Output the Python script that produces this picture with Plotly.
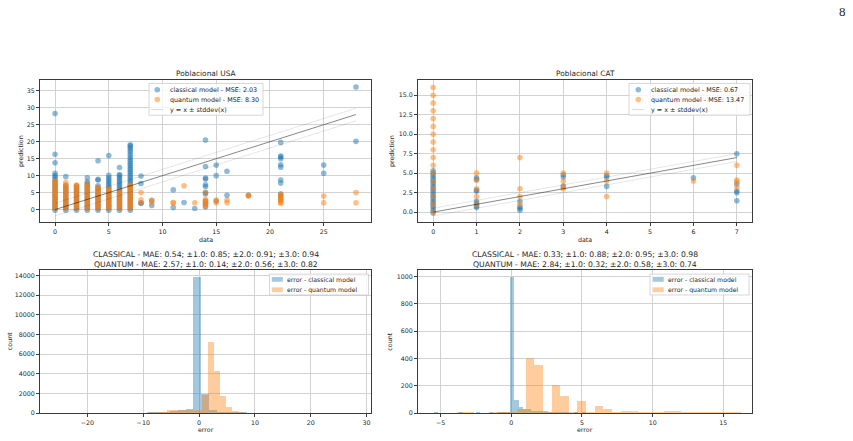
import plotly.graph_objects as go

W, H = 853, 441

# ---------------- data ----------------
usa_classical = {
    0: [-0.2, 0.4, 1.0, 1.6, 2.2, 2.8, 3.4, 4.0, 4.6, 5.2, 5.8, 6.4, 7.0, 7.6, 8.2, 8.8, 9.5, 10.0, 10.7, 13.8, 16.3, 28.3],
    1: [-0.2, 0.4, 1.0, 1.6, 2.2, 2.8, 3.4, 4.0, 4.6, 5.2, 5.8, 6.4, 7.0, 9.7],
    2: [-0.2, 0.4, 1.0, 1.6, 2.2, 2.8, 3.4, 4.0, 4.6, 5.2, 5.8, 6.4, 7.0],
    3: [-0.2, 0.4, 1.0, 1.6, 2.2, 2.8, 3.4, 4.0, 4.6, 5.2, 5.8, 6.4, 7.0, 7.6, 8.2, 9.4],
    4: [-0.2, 0.4, 1.0, 1.6, 2.2, 2.8, 3.4, 4.0, 4.6, 5.2, 5.8, 6.4, 7.0, 8.7, 8.9, 14.4],
    5: [-0.2, 0.4, 1.0, 1.6, 2.2, 2.8, 3.4, 4.0, 4.6, 5.2, 5.8, 6.4, 7.0, 7.6, 8.2, 8.8, 9.4, 10.1, 15.9],
    6: [-0.2, 0.4, 1.0, 1.6, 2.2, 2.8, 3.4, 4.0, 4.6, 5.2, 5.8, 6.4, 7.0, 7.6, 8.2, 8.8, 9.4, 10.0, 10.3, 12.4],
    7: [-0.2, 0.4, 1.0, 1.6, 2.2, 2.8, 3.4, 4.0, 4.6, 5.2, 5.8, 6.4, 7.0, 7.6, 8.2, 8.8, 9.4, 10.0, 10.6,
        11.2, 11.8, 12.4, 13.0, 13.6, 14.2, 14.8, 15.5, 16.2, 17.0, 17.6, 18.3, 18.8, 19.1],
    8: [1.8, 2.0, 7.7, 9.9],
    9: [1.2, 2.6],
    11: [0.6, 5.8],
    12: [2.1],
    13: [0.3],
    14: [0.8, 1.8, 2.5, 4.6, 5.0, 6.8, 7.3, 9.0, 9.3, 12.7, 20.5],
    15: [2.5, 10.0, 13.1],
    16: [4.2, 11.3],
    18: [4.2],
    21: [3.0, 4.0, 4.6, 7.8, 8.7, 12.5, 13.2, 15.0, 15.5, 15.8, 19.8],
    25: [10.7, 13.1],
    28: [20.1, 36.1],
}
usa_quantum = {
    0: [0.3, 0.9, 1.5, 2.1, 2.7, 3.3, 3.9, 4.5, 5.1, 5.7, 6.3, 6.9, 7.5, 8.1, 8.5],
    1: [0.3, 0.9, 1.5, 2.1, 2.7, 3.3, 3.9, 4.5, 5.1, 5.7, 6.3, 6.9, 7.3, 8.0],
    2: [0.3, 0.9, 1.5, 2.1, 2.7, 3.3, 3.9, 4.5, 5.1, 5.7, 6.3, 6.9, 7.2],
    3: [0.3, 0.9, 1.5, 2.1, 2.7, 3.3, 3.9, 4.5, 5.1, 5.7, 6.3, 6.9, 7.5],
    4: [0.3, 0.9, 1.5, 2.1, 2.7, 3.3, 3.9, 4.5, 5.1, 5.7, 6.3, 6.5],
    5: [0.3, 0.9, 1.5, 2.1, 2.7, 3.3, 3.9, 4.5, 5.1, 5.7, 6.2],
    6: [0.3, 0.9, 1.5, 2.1, 2.7, 3.3, 3.9, 4.5, 5.1, 5.6],
    7: [0.3, 0.9, 1.5, 2.1, 2.7, 3.3, 3.9, 4.5, 5.1, 5.7, 6.3, 6.9, 7.2],
    8: [2.0, 2.9, 5.0],
    9: [2.0, 2.8],
    11: [1.9, 2.1],
    12: [7.0],
    13: [2.0],
    14: [1.0, 1.5, 2.0, 2.5, 3.0, 5.0],
    15: [2.0, 2.8],
    16: [2.0, 2.8],
    18: [4.0, 4.2],
    21: [1.8, 2.1, 2.5, 3.0, 3.5, 4.0, 4.6],
    25: [2.0, 4.0],
    28: [2.0, 5.0],
}
cat_classical = {
    0: [-0.1, 0.2, 0.5, 0.8, 1.1, 1.4, 1.7, 2.0, 2.3, 2.6, 2.9, 3.2, 3.5, 3.8, 4.1, 4.4, 4.7, 5.0, 5.3],
    1: [0.6, 0.8, 1.1, 1.4, 2.7, 2.8, 4.2, 4.4],
    2: [0.25, 0.5, 0.7, 1.4],
    3: [3.35, 4.5, 4.8],
    4: [3.3, 4.5, 4.7],
    6: [4.4],
    7: [1.45, 2.5, 2.7, 3.6, 7.5],
}
cat_quantum = {
    0: [0.0, 1.0, 2.0, 3.0, 4.0, 5.0, 6.0, 7.0, 8.0, 9.0, 10.0, 11.0, 12.0, 13.0, 14.0, 15.0, 16.0],
    1: [1.0, 2.0, 3.0, 4.1, 5.0],
    2: [1.0, 2.0, 3.0, 7.0],
    3: [3.0, 3.2, 4.0, 5.0],
    4: [2.0, 4.0, 5.0],
    6: [4.0],
    7: [3.2, 3.9, 4.1, 6.0],
}
usa_std = 1.85
cat_std = 0.5

usa_mse = {"classical": 2.03, "quantum": 8.30}
cat_mse = {"classical": 0.67, "quantum": 13.47}

usa_cls_edges = [-9.30, -7.92, -6.54, -5.16, -3.78, -2.40, -1.02, 0.36, 1.74,
                 3.12, 4.50, 5.88, 7.26]
usa_cls_counts = [25, 60, 120, 250, 330, 450, 13840, 1900, 300,
                  120, 40, 20, 10]
usa_cls_width = 1.38
usa_qnt_edges = [-9.03, -7.96, -6.89, -5.82, -4.75, -3.68, -2.61, -1.54, -0.47,
                 0.60, 1.67, 2.74, 3.81, 4.88, 5.95, 7.02]
usa_qnt_counts = [15, 25, 40, 340, 310, 290, 270, 260, 300,
                  1800, 7250, 4250, 1700, 580, 170, 20]
usa_qnt_width = 1.07

cat_cls_edges = [-5.49, -3.69, -2.49, -1.59, -0.99, -0.69, -0.39, -0.09, 0.21, 0.51, 0.81, 1.11, 1.41,
                 1.71, 2.01, 2.31, 2.61, 2.91, 3.21, 3.51, 3.81, 4.41, 5.01]
cat_cls_counts = [2, 2, 3, 3, 4, 5, 8, 995, 98, 47, 32, 30, 15,
                  12, 12, 12, 8, 6, 5, 4, 3, 3, 2]
cat_cls_width = 0.30
cat_qnt_edges = [-3.86, -3.25, -1.42, -0.81, -0.20, 0.41, 1.02, 1.63, 2.24, 2.85, 3.46, 4.07, 4.68,
                 5.29, 5.90, 6.51, 7.12, 7.73, 8.34, 8.95, 9.56, 10.17, 10.78, 11.39, 12.00, 12.61,
                 13.22, 13.83, 14.44, 15.05, 15.66]
cat_qnt_counts = [4, 3, 4, 5, 8, 30, 405, 350, 10, 204, 122, 5, 90,
                  4, 49, 27, 3, 12, 12, 2, 6, 2, 12, 12, 2, 4,
                  4, 2, 5, 5, 3]
cat_qnt_width = 0.61

usa_stats = {"classical": [0.54, 0.85, 0.91, 0.94], "quantum": [2.57, 0.14, 0.56, 0.82]}
cat_stats = {"classical": [0.33, 0.88, 0.95, 0.98], "quantum": [2.84, 0.32, 0.58, 0.74]}

panel_titles = ["Poblacional USA", "Poblacional CAT"]
page_number = "8"

# ---------------- style ----------------
BLUE = "#1f77b4"
ORANGE = "#ff7f0e"
FONT = "DejaVu Sans"
TXT = "#262626"


def flat(d):
    xs, ys = [], []
    for k, vals in d.items():
        for v in vals:
            xs.append(k)
            ys.append(v)
    return xs, ys


fig = go.Figure()


def add_scatter_panel(cls, qnt, std, xa, ya):
    for d, col in ((cls, BLUE), (qnt, ORANGE)):
        xs, ys = flat(d)
        fig.add_trace(go.Scatter(x=xs, y=ys, mode="markers", xaxis=xa, yaxis=ya, showlegend=False,
                                 marker=dict(color=col, opacity=0.5, size=5.6, line=dict(width=0))))
    allx = list(cls.keys()) + list(qnt.keys())
    lo, hi = min(allx), max(allx)
    for off, colr in ((std, "rgba(0,0,0,0.13)"), (-std, "rgba(0,0,0,0.13)"), (0, "rgba(0,0,0,0.6)")):
        fig.add_trace(go.Scatter(x=[lo, hi], y=[lo + off, hi + off], mode="lines", xaxis=xa, yaxis=ya,
                                 showlegend=False, line=dict(color=colr, width=0.8)))


def add_hist_panel(edges_c, counts_c, w_c, edges_q, counts_q, w_q, xa, ya):
    for edges, counts, w, col in ((edges_c, counts_c, w_c, BLUE), (edges_q, counts_q, w_q, ORANGE)):
        fig.add_trace(go.Bar(x=[e + w / 2 for e in edges], y=counts, width=[w] * len(edges),
                             xaxis=xa, yaxis=ya, showlegend=False, opacity=0.4,
                             marker=dict(color=col, line=dict(width=0))))


add_scatter_panel(usa_classical, usa_quantum, usa_std, "x", "y")
add_scatter_panel(cat_classical, cat_quantum, cat_std, "x2", "y2")
add_hist_panel(usa_cls_edges, usa_cls_counts, usa_cls_width, usa_qnt_edges, usa_qnt_counts, usa_qnt_width, "x3", "y3")
add_hist_panel(cat_cls_edges, cat_cls_counts, cat_cls_width, cat_qnt_edges, cat_qnt_counts, cat_qnt_width, "x4", "y4")


def px_x(p):
    return p / W


def px_y(p):
    return 1 - p / H


def axis(domain, rng, dtick, anchor, fmt=None):
    a = dict(domain=domain, range=rng, dtick=dtick, tick0=0, anchor=anchor,
             showgrid=True, gridcolor="#d2d2d2", gridwidth=0.8, zeroline=False,
             showline=True, mirror=True, linecolor="#3a3a3a", linewidth=0.9,
             ticks="outside", ticklen=3, tickwidth=0.8, tickcolor="#3a3a3a",
             tickfont=dict(family=FONT, size=6.3, color=TXT))
    if fmt:
        a["tickformat"] = fmt
    return a


L1, R1 = px_x(40), px_x(371)
L2, R2 = px_x(418), px_x(752)
TOP = [px_y(224), px_y(81)]
BOT = [px_y(416), px_y(272)]

layout = dict(
    width=W, height=H, margin=dict(l=0, r=0, t=0, b=0),
    paper_bgcolor="white", plot_bgcolor="white",
    barmode="overlay", bargap=0,
    font=dict(family=FONT, color=TXT),
    xaxis=axis([L1, R1], [-1.4, 29.4], 5, "y"),
    yaxis=axis(TOP, [-3.8, 38.05], 5, "x"),
    xaxis2=axis([L2, R2], [-0.35, 7.35], 1, "y2"),
    yaxis2=axis(TOP, [-1.33, 16.9], 2.5, "x2", ".1f"),
    xaxis3=axis([L1, R1], [-28.5, 30.8], 10, "y3"),
    yaxis3=axis(BOT, [0, 14545], 2000, "x3", "d"),
    xaxis4=axis([L2, R2], [-6.6, 17.03], 5, "y4"),
    yaxis4=axis(BOT, [0, 1047], 200, "x4", "d"),
)
fig.update_layout(**layout)

ann = []
shapes = []


def text(x, y, s, size, xanchor="center", angle=0, family=FONT):
    ann.append(dict(x=px_x(x), y=px_y(y), xref="paper", yref="paper", text=s, showarrow=False,
                    xanchor=xanchor, yanchor="middle", textangle=angle,
                    font=dict(family=family, size=size, color=TXT)))


# titles
cx1, cx2 = 205.5, 585
text(cx1, 74, panel_titles[0], 7.4)
text(cx2, 74, panel_titles[1], 7.4)


def stat_line(name, v):
    return f"{name} - MAE: {v[0]:.2f}; ±1.0: {v[1]:.2f}; ±2.0: {v[2]:.2f}; ±3.0: {v[3]:.2f}"


text(cx1, 256, stat_line("CLASSICAL", usa_stats["classical"]), 7.7)
text(cx1, 266, stat_line("QUANTUM", usa_stats["quantum"]), 7.7)
text(cx2, 256, stat_line("CLASSICAL", cat_stats["classical"]), 7.7)
text(cx2, 266, stat_line("QUANTUM", cat_stats["quantum"]), 7.7)

# axis labels
text(cx1, 241, "data", 6.3)
text(cx2, 241, "data", 6.3)
text(cx1, 432, "error", 6.3)
text(cx2, 432, "error", 6.3)
text(21.5, 152.5, "prediction", 6.3, angle=-90)
text(392.5, 152.5, "prediction", 6.3, angle=-90)
text(9.5, 344, "count", 6.3, angle=-90)
text(390, 344, "count", 6.3, angle=-90)

# page number
text(842, 12, page_number, 13, family="Liberation Serif, DejaVu Serif, serif")


# manual legends (matplotlib-like compact boxes)
def box(x0, y0, x1, y1):
    shapes.append(dict(type="rect", xref="paper", yref="paper", x0=px_x(x0), x1=px_x(x1),
                       y0=px_y(y1), y1=px_y(y0), fillcolor="rgba(255,255,255,0.8)",
                       line=dict(color="#cccccc", width=0.8), layer="above"))


def dot(cx, cy, col):
    r = 2.8
    shapes.append(dict(type="circle", xref="paper", yref="paper", x0=px_x(cx - r), x1=px_x(cx + r),
                       y0=px_y(cy + r), y1=px_y(cy - r), fillcolor=col, opacity=0.5,
                       line=dict(width=0), layer="above"))


def seg(x0, x1, y, col):
    shapes.append(dict(type="line", xref="paper", yref="paper", x0=px_x(x0), x1=px_x(x1),
                       y0=px_y(y), y1=px_y(y), line=dict(color=col, width=1), layer="above"))


def patch(x0, x1, y, col):
    shapes.append(dict(type="rect", xref="paper", yref="paper", x0=px_x(x0), x1=px_x(x1),
                       y0=px_y(y + 2.4), y1=px_y(y - 2.4), fillcolor=col, opacity=0.4,
                       line=dict(width=0), layer="above"))


def scatter_legend(bx0, bx1, mx, tx, mse):
    box(bx0, 84, bx1, 116)
    rows = [90.3, 100.3, 110.3]
    dot(mx, rows[0], BLUE)
    dot(mx, rows[1], ORANGE)
    seg(mx - 6, mx + 6, rows[2], "rgba(0,0,0,0.15)")
    text(tx, rows[0], f"classical model - MSE: {mse['classical']:.2f}", 6.4, xanchor="left")
    text(tx, rows[1], f"quantum model - MSE: {mse['quantum']:.2f}", 6.4, xanchor="left")
    text(tx, rows[2], "y = x ± stddev(x)", 6.4, xanchor="left")


def hist_legend(bx0, bx1, px0, tx):
    box(bx0, 276, bx1, 297)
    rows = [281.3, 291.7]
    patch(px0, px0 + 11, rows[0], BLUE)
    patch(px0, px0 + 11, rows[1], ORANGE)
    text(tx, rows[0], "error - classical model", 6.2, xanchor="left")
    text(tx, rows[1], "error - quantum model", 6.2, xanchor="left")


scatter_legend(149, 263, 157.3, 167.5, usa_mse)
scatter_legend(629, 750, 638.3, 648.5, cat_mse)
hist_legend(269.5, 368.5, 271.8, 284.5)
hist_legend(650, 749, 652.7, 665.5)

fig.update_layout(annotations=ann, shapes=shapes)
fig.write_html("out.html")
